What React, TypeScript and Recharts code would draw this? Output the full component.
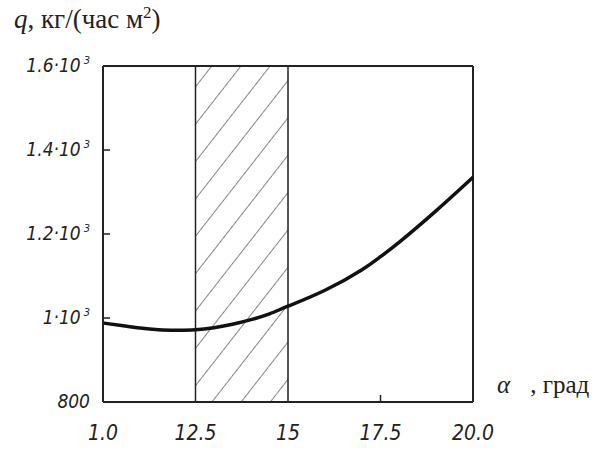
import { LineChart, Line, XAxis, YAxis, ReferenceArea, ReferenceLine } from "recharts";

// angle, degrees
const alpha = [10, 10.5, 11, 11.5, 12, 12.5, 13, 13.5, 14, 14.5, 15, 16, 17, 17.5, 18, 19, 20];
// specific flow q, kg/(h m2)
const q = [988, 982, 976, 972, 971, 972, 977, 985, 996, 1010, 1028, 1066, 1115, 1146, 1180, 1255, 1335];

const xTicks = [10, 12.5, 15, 17.5, 20];
const xTickLabels = ["1.0", "12.5", "15", "17.5", "20.0"];
const yTicks = [800, 1000, 1200, 1400, 1600];
const yTickLabels = ["800", "1·10", "1.2·10", "1.4·10", "1.6·10"];
const yTickPow = ["", "3", "3", "3", "3"];

const hatchZone = [12.5, 15];

const data = alpha.map((a, i) => ({ a, q: q[i] }));

const tickFont = "'Liberation Sans Narrow', 'DejaVu Sans Condensed', sans-serif";
const serif = "'Liberation Serif', 'DejaVu Serif', serif";

function YTick(props: any) {
  const { x, y, payload } = props;
  const i = yTicks.indexOf(payload.value);
  const inner = payload.value !== 800 && payload.value !== 1600;
  return (
    <g>
      {inner && <line x1={x} y1={y} x2={x + 7} y2={y} stroke="#222" strokeWidth={1.5} />}
      <text
        x={x - 13}
        y={y + 6}
        textAnchor="end"
        fontFamily={tickFont}
        fontStyle="italic"
        fontSize={19}
        fill="#222"
      >
        {yTickLabels[i]}
        {yTickPow[i] && (
          <tspan dx={3} dy={-8} fontSize={11}>
            {yTickPow[i]}
          </tspan>
        )}
      </text>
    </g>
  );
}

function XTick(props: any) {
  const { x, y, payload } = props;
  const i = xTicks.indexOf(payload.value);
  const inner = payload.value === 17.5;
  return (
    <g>
      {inner && <line x1={x} y1={y} x2={x} y2={y - 7} stroke="#222" strokeWidth={1.5} />}
      <text
        x={x}
        y={y + 38}
        textAnchor="middle"
        fontFamily={tickFont}
        fontStyle="italic"
        fontSize={21}
        fill="#222"
      >
        {xTickLabels[i]}
      </text>
    </g>
  );
}

export default function App() {
  return (
    <div style={{ position: "absolute", left: 0, top: 0, width: 607, height: 450, background: "#fff" }}>
      <div
        style={{
          position: "absolute",
          left: 14,
          top: 3,
          fontFamily: serif,
          fontSize: 27,
          color: "#222",
          whiteSpace: "nowrap",
        }}
      >
        <i>q</i>, кг/(час м<sup style={{ fontSize: 17 }}>2</sup>)
      </div>
      <div
        style={{
          position: "absolute",
          left: 497,
          top: 371,
          fontFamily: serif,
          fontSize: 25,
          color: "#222",
          whiteSpace: "nowrap",
        }}
      >
        <i>α</i>
        <span style={{ marginLeft: 20 }}>, град</span>
      </div>
      <LineChart width={607} height={450} data={data} margin={{ top: 66, right: 134, bottom: 0, left: 0 }}>
        <defs>
          <pattern id="hatch" width={23} height={23} patternUnits="userSpaceOnUse" patternTransform="rotate(38)">
            <line x1={0} y1={0} x2={0} y2={23} stroke="#333" strokeWidth={1.2} />
          </pattern>
        </defs>
        <XAxis
          dataKey="a"
          type="number"
          domain={[10, 20]}
          ticks={xTicks}
          height={48}
          tickSize={0}
          tickMargin={0}
          tickLine={false}
          tick={<XTick />}
          axisLine={{ stroke: "#222", strokeWidth: 2 }}
          interval={0}
        />
        <YAxis
          type="number"
          domain={[800, 1600]}
          ticks={yTicks}
          width={103}
          tickSize={0}
          tickMargin={0}
          tickLine={false}
          tick={<YTick />}
          axisLine={{ stroke: "#222", strokeWidth: 2 }}
          interval={0}
        />
        <ReferenceArea
          x1={hatchZone[0]}
          x2={hatchZone[1]}
          y1={800}
          y2={1600}
          fill="url(#hatch)"
          fillOpacity={1}
          stroke="#222"
          strokeWidth={1.5}
        />
        <ReferenceLine y={1600} stroke="#222" strokeWidth={2} />
        <ReferenceLine x={20} stroke="#222" strokeWidth={2} />
        <Line
          type="natural"
          dataKey="q"
          stroke="#111"
          strokeWidth={3.5}
          dot={false}
          isAnimationActive={false}
        />
      </LineChart>
    </div>
  );
}
